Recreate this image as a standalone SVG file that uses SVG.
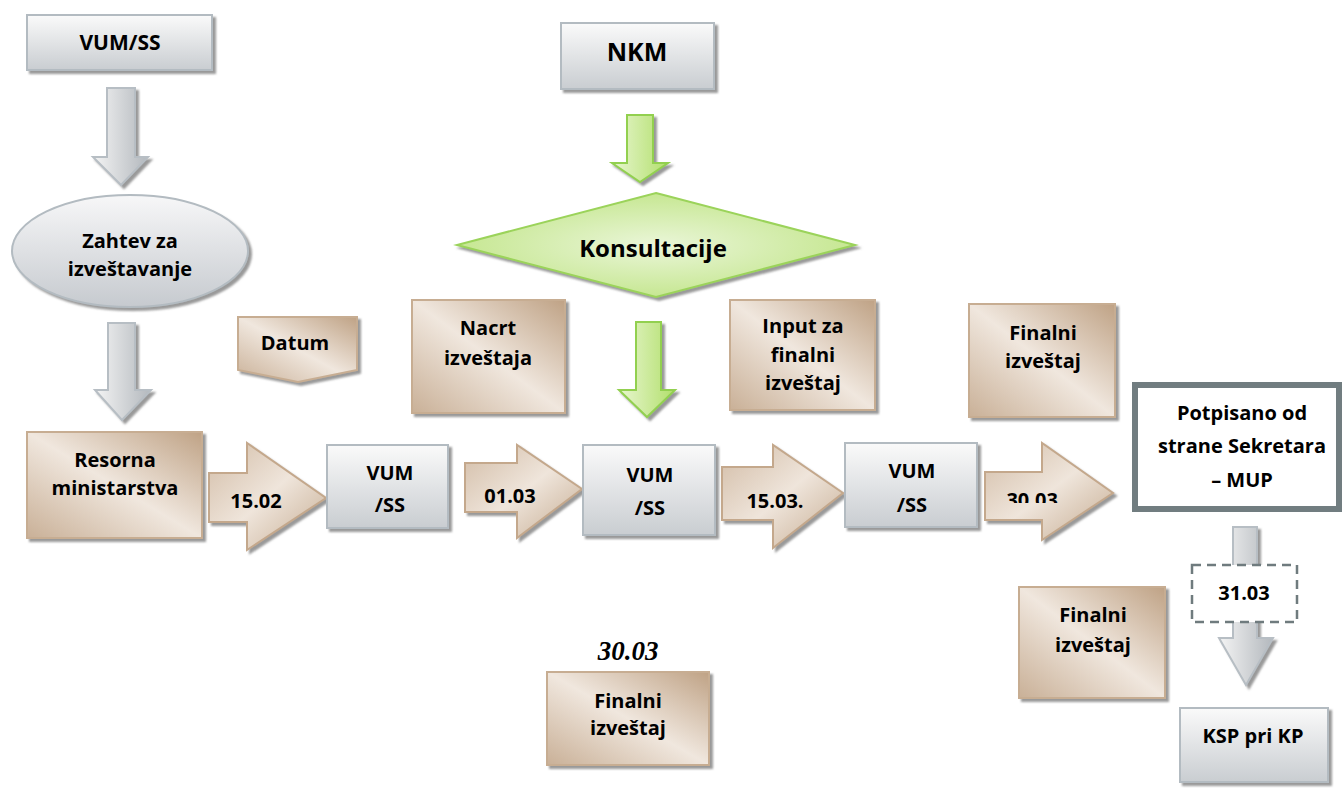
<svg xmlns="http://www.w3.org/2000/svg" width="1344" height="792" viewBox="0 0 1344 792">
<defs>
<linearGradient id="gGray" x1="0" y1="0" x2="0" y2="1"><stop offset="0" stop-color="#fafafa"/><stop offset="1" stop-color="#c9cdd1"/></linearGradient>
<linearGradient id="gArrowGray" x1="0" y1="0" x2="1" y2="0"><stop offset="0" stop-color="#f4f4f4"/><stop offset="1" stop-color="#b3b8bd"/></linearGradient>
<linearGradient id="gBrown" x1="1" y1="0" x2="0" y2="1"><stop offset="0" stop-color="#bfa285"/><stop offset="0.5" stop-color="#f0e7de"/><stop offset="1" stop-color="#c9b097"/></linearGradient>
<linearGradient id="gBrownArrow" x1="0" y1="0" x2="1" y2="1"><stop offset="0" stop-color="#d2bca6"/><stop offset="0.5" stop-color="#efe5db"/><stop offset="1" stop-color="#c4aa8f"/></linearGradient>
<linearGradient id="gGreen" x1="0" y1="0" x2="1" y2="0"><stop offset="0" stop-color="#e8f6d0"/><stop offset="1" stop-color="#b2df6c"/></linearGradient>
<radialGradient id="gDiamond" cx="0.5" cy="0.5" r="0.6"><stop offset="0" stop-color="#eaf6d8"/><stop offset="1" stop-color="#bfe484"/></radialGradient>
<linearGradient id="gEllipse" x1="0" y1="0" x2="0" y2="1"><stop offset="0" stop-color="#f7f7f8"/><stop offset="1" stop-color="#c6cacf"/></linearGradient>
<filter id="sh" x="-10%" y="-10%" width="130%" height="140%"><feDropShadow dx="3" dy="3" stdDeviation="1" flood-color="#6e6e6e" flood-opacity="0.7"/></filter>
<clipPath id="clip3003"><rect x="990" y="480" width="90" height="23"/></clipPath>
</defs>
<style>
.gbox{fill:url(#gGray);stroke:#b3bbc1;stroke-width:2;filter:url(#sh)}
.bbox{fill:url(#gBrown);stroke:#c7ad92;stroke-width:2;filter:url(#sh)}
.garr{fill:url(#gArrowGray);stroke:#b7bec4;stroke-width:2;filter:url(#sh)}
.grarr{fill:url(#gGreen);stroke:#92d050;stroke-width:2;filter:url(#sh)}
.barr{fill:url(#gBrownArrow);stroke:#c4a88c;stroke-width:2;filter:url(#sh)}
.t{font-family:"Open Sans","Liberation Sans",sans-serif;font-weight:bold;fill:#000;text-anchor:middle;font-size:20px}
</style>
<rect width="1344" height="792" fill="#ffffff"/>

<g id="connectors">
<path class="garr" d="M107,88 H135 V157 H148 L121,185 L93,157 H107 Z"/>
<path class="garr" d="M108,323 H135 V390 H151 L122,420 L95,390 H108 Z"/>
<path class="grarr" d="M627,115 H653 V163 H668 L640,182 L612,163 H627 Z"/>
<path class="grarr" d="M636,322 H661 V390 H675 L647,417 L619,390 H636 Z"/>
<g id="a1502"><path class="barr" d="M209,473 H247 V443 L326,498 L247,550 V522 H209 Z"/><text class="t" x="256" y="508">15.02</text></g>
<g id="a0103"><path class="barr" d="M465,463 H517 V445 L582,489 L517,538 V512 H465 Z"/><text class="t" x="510" y="503">01.03</text></g>
<g id="a1503"><path class="barr" d="M722,467 H773 V445 L843,493 L773,548 V520 H722 Z"/><text class="t" x="775" y="508">15.03.</text></g>
<g id="a3003"><path class="barr" d="M985,472 H1042 V443 L1113,493 L1042,540 V520 H985 Z"/><text class="t" x="1035" y="507" clip-path="url(#clip3003)">30.03.</text></g>
<path class="garr" d="M1233,527 H1257 V638 H1273 L1246,685 L1219,638 H1233 Z"/>
</g>

<g id="n-vumss-top"><rect class="gbox" x="27" y="15" width="185" height="55"/><text class="t" x="120" y="50" style="font-size:21px">VUM/SS</text></g>
<g id="n-zahtev"><ellipse cx="130" cy="251" rx="118" ry="56" fill="url(#gEllipse)" stroke="#b3bbc1" stroke-width="2" filter="url(#sh)"/><text class="t" x="130" y="248">Zahtev za</text><text class="t" x="130" y="276">izveštavanje</text></g>
<g id="n-datum"><path class="bbox" d="M238,317 H357 V370 L298,382 L238,370 Z"/><text class="t" x="295" y="350">Datum</text></g>
<g id="n-resorna"><rect class="bbox" x="27" y="432" width="175" height="106"/><text class="t" x="115" y="467">Resorna</text><text class="t" x="115" y="495">ministarstva</text></g>
<g id="n-nkm"><rect class="gbox" x="561" y="23" width="153" height="66"/><text class="t" x="637" y="61" style="font-size:25px">NKM</text></g>
<g id="n-konsultacije"><path d="M656,193 L855,245 L656,297 L457,245 Z" fill="url(#gDiamond)" stroke="#9bd35a" stroke-width="2" filter="url(#sh)"/><text class="t" x="653" y="257" style="font-size:24px">Konsultacije</text></g>
<g id="n-nacrt"><rect class="bbox" x="412" y="300" width="153" height="113"/><text class="t" x="488" y="335">Nacrt</text><text class="t" x="488" y="365">izveštaja</text></g>
<g id="n-input"><rect class="bbox" x="730" y="300" width="145" height="110"/><text class="t" x="803" y="333">Input za</text><text class="t" x="803" y="362">finalni</text><text class="t" x="803" y="390">izveštaj</text></g>
<g id="n-finalni-top"><rect class="bbox" x="969" y="304" width="146" height="113"/><text class="t" x="1043" y="340">Finalni</text><text class="t" x="1043" y="368">izveštaj</text></g>
<g id="n-vum1"><rect class="gbox" x="327" y="445" width="121" height="83"/><text class="t" x="390" y="480">VUM</text><text class="t" x="390" y="512">/SS</text></g>
<g id="n-vum2"><rect class="gbox" x="583" y="445" width="132" height="90"/><text class="t" x="650" y="482">VUM</text><text class="t" x="650" y="515">/SS</text></g>
<g id="n-vum3"><rect class="gbox" x="845" y="443" width="132" height="84"/><text class="t" x="912" y="478">VUM</text><text class="t" x="912" y="512">/SS</text></g>
<g id="n-potpisano"><rect x="1135" y="385" width="204" height="124" fill="#ffffff" stroke="#717d80" stroke-width="6"/><text class="t" x="1242" y="420">Potpisano od</text><text class="t" x="1242" y="453">strane Sekretara</text><text class="t" x="1242" y="487">– MUP</text></g>
<g id="n-3103"><rect x="1192" y="565" width="105" height="57" fill="#ffffff" stroke="#6f7b7e" stroke-width="2.5" stroke-dasharray="9,6"/><text class="t" x="1244" y="600">31.03</text></g>
<g id="n-finalni-br"><rect class="bbox" x="1019" y="587" width="146" height="111"/><text class="t" x="1093" y="622">Finalni</text><text class="t" x="1093" y="652">izveštaj</text></g>
<g id="n-ksp"><rect class="gbox" x="1180" y="708" width="148" height="74"/><text class="t" x="1253" y="743">KSP pri KP</text></g>
<text x="628" y="660" font-family="'Liberation Serif',serif" font-style="italic" font-weight="bold" font-size="27" text-anchor="middle" fill="#000">30.03</text>
<g id="n-finalni-bc"><rect class="bbox" x="547" y="672" width="162" height="93"/><text class="t" x="628" y="708">Finalni</text><text class="t" x="628" y="735">izveštaj</text></g>
</svg>
